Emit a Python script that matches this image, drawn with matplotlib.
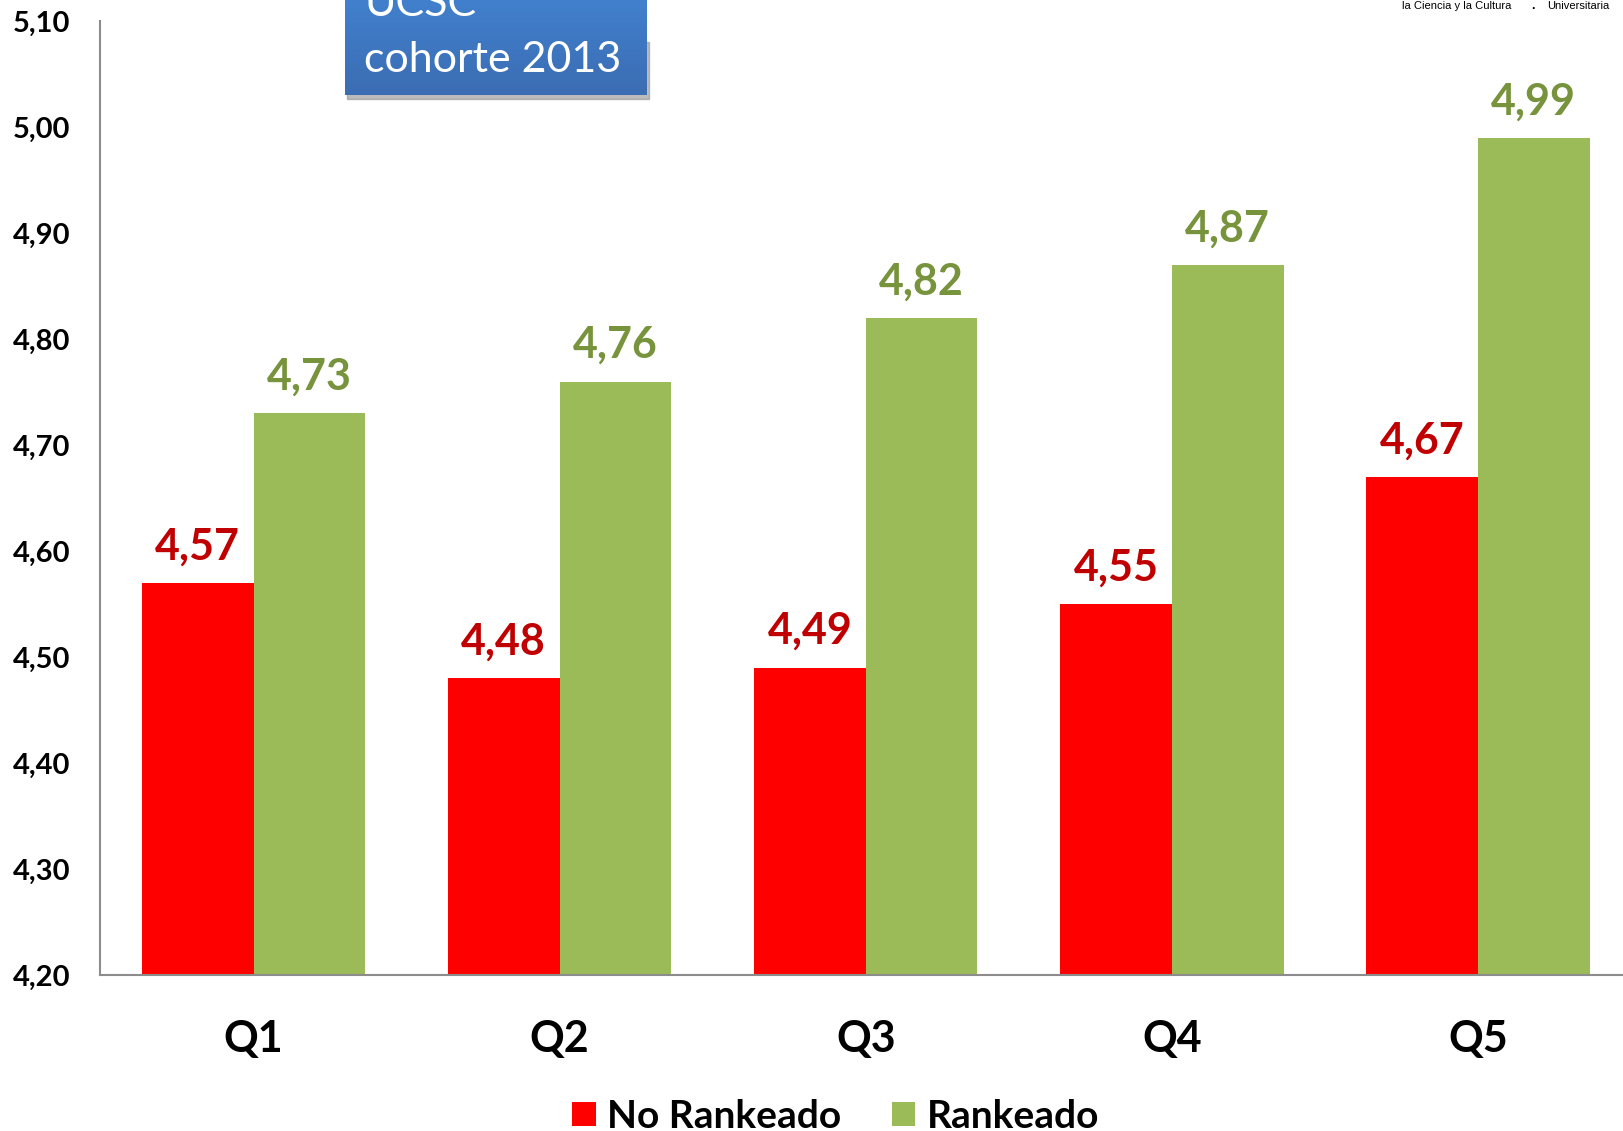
import numpy as np
import matplotlib.pyplot as plt
from matplotlib.patches import Rectangle
from matplotlib.colors import LinearSegmentedColormap


# Data ------------------------------------------------------------------------

quintiles = ["Q1", "Q2", "Q3", "Q4", "Q5"]
no_rankeado = [4.57, 4.48, 4.49, 4.55, 4.67]
rankeado = [4.73, 4.76, 4.82, 4.87, 4.99]

y_ticks = [4.20, 4.30, 4.40, 4.50, 4.60, 4.70, 4.80, 4.90, 5.00, 5.10]


# Style -----------------------------------------------------------------------

plt.rcParams['font.family'] = ['Lato', 'DejaVu Sans']

red = "#FF0000"
green = "#9BBB59"
red_txt = "#C00000"
green_txt = "#77933C"


def fmt(v):
    return ("%.2f" % v).replace(".", ",")


# Figure ----------------------------------------------------------------------

fig = plt.figure(figsize=(16.23, 11.31), dpi=100)
ax = fig.add_axes([0.0619, 0.138, 0.943, 0.843])

x = np.arange(len(quintiles))
w = 0.365

bars_1 = ax.bar(x - w / 2, no_rankeado, w, color=red, label="No Rankeado")
bars_2 = ax.bar(x + w / 2, rankeado, w, color=green, label="Rankeado")

for b, v in zip(bars_1, no_rankeado):
    ax.annotate(fmt(v), (b.get_x() + b.get_width() / 2, v),
                xytext=(0, 17), textcoords="offset points",
                ha="center", va="baseline", fontsize=31,
                fontweight="bold", color=red_txt)

for b, v in zip(bars_2, rankeado):
    ax.annotate(fmt(v), (b.get_x() + b.get_width() / 2, v),
                xytext=(0, 17), textcoords="offset points",
                ha="center", va="baseline", fontsize=31,
                fontweight="bold", color=green_txt)

ax.set_xlim(-0.5, 4.5)
ax.set_ylim(4.20, 5.10)

ax.set_yticks(y_ticks)
ax.set_yticklabels([fmt(t) for t in y_ticks], fontsize=21, fontweight="bold")
ax.set_xticks(x)
ax.set_xticklabels(quintiles, fontsize=31, fontweight="bold")
ax.tick_params(axis="y", length=0, pad=22)
ax.tick_params(axis="x", length=0, pad=32)

for s in ["top", "right"]:
    ax.spines[s].set_visible(False)
for s in ["left", "bottom"]:
    ax.spines[s].set_color("#8C8C8C")
    ax.spines[s].set_linewidth(1.5)


# Legend ----------------------------------------------------------------------

fig.legend(loc="center", bbox_to_anchor=(0.515, 0.013), ncol=2,
           frameon=False, prop={"size": 28, "weight": "bold"},
           handlelength=0.6, handleheight=0.6, handletextpad=0.3,
           columnspacing=1.3)


# Blue box (title, cut at top) ------------------------------------------------

# shadow first, box on top of it
shadow = Rectangle((347 / 1623, 1 - 99 / 1131), 302 / 1623, 0.05,
                   transform=fig.transFigure, color="#909090",
                   alpha=0.6, zorder=1)
fig.patches.append(shadow)

box_ax = fig.add_axes([345 / 1623, 1 - 95 / 1131, 302 / 1623, 95 / 1131 + 0.02])
box_ax.set_zorder(2)
box_ax.set_axis_off()
grad = np.linspace(0, 1, 100).reshape(-1, 1)
cmap = LinearSegmentedColormap.from_list("b", ["#3B6DB3", "#4384D3"])
box_ax.imshow(grad, aspect="auto", cmap=cmap, origin="lower",
              extent=[0, 1, 0, 1])

fig.text(364 / 1623, 1 - 72 / 1131, "cohorte 2013", color="white",
         fontsize=31, va="baseline", ha="left", zorder=5)
fig.text(364 / 1623, 1 - 16 / 1131, "UCSC", color="white",
         fontsize=31, va="baseline", ha="left", zorder=5)


# Logo text, top right --------------------------------------------------------

fig.text(1402 / 1623, 0.9947, "la Ciencia y la Cultura", fontsize=8,
         family="Liberation Sans", va="center", ha="left")
fig.text(1531 / 1623, 0.9947, ".", fontsize=9, fontweight="bold",
         family="Liberation Sans", va="center", ha="left")
fig.text(1547 / 1623, 0.9947, "Universitaria", fontsize=8,
         family="Liberation Sans", va="center", ha="left")


fig.savefig("out.png", dpi=100)
